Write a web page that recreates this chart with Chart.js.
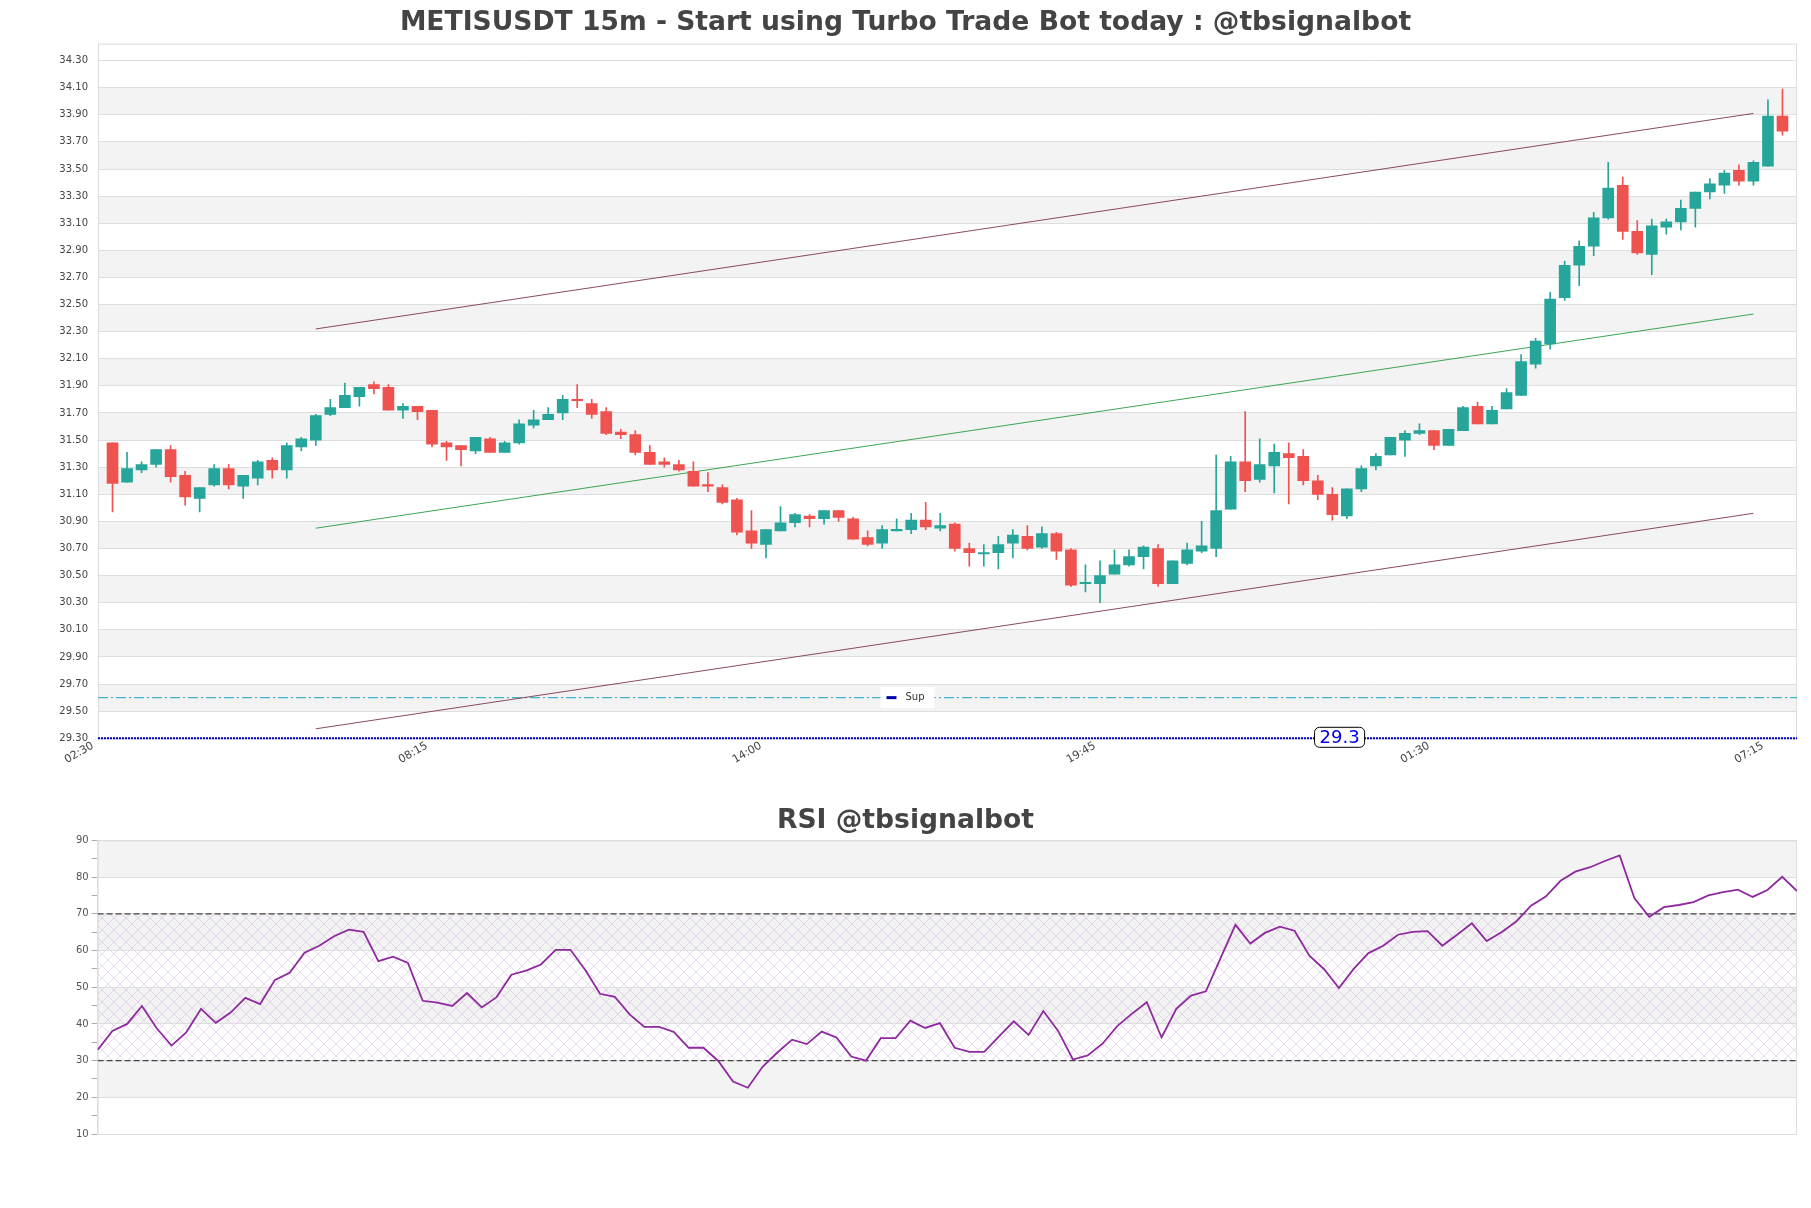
<!DOCTYPE html>
<html lang="en">
<head>
<meta charset="utf-8">
<title>METISUSDT 15m</title>
<script src="https://cdn.jsdelivr.net/npm/chart.js@4.4.0/dist/chart.umd.min.js"></script>
<style>
  body { margin: 0; background: #fff; }
  .box { position: relative; width: 1811px; }
</style>
</head>
<body>
<div class="box" style="height:780px"><canvas id="priceChart"></canvas></div>
<div class="box" style="height:428px"><canvas id="rsiChart"></canvas></div>
<script>
// ---- candle data (15m), first candle is 02:45 ----
var opens  = [31.48,31.19,31.28,31.32,31.43,31.24,31.07,31.17,31.29,31.16,31.22,31.35,31.28,31.45,31.50,31.69,31.74,31.82,31.91,31.89,
              31.72,31.75,31.72,31.48,31.46,31.42,31.51,31.41,31.48,31.61,31.65,31.70,31.80,31.77,31.71,31.56,31.54,31.41,31.34,31.32,
              31.27,31.17,31.15,31.06,30.83,30.73,30.83,30.89,30.94,30.92,30.98,30.92,30.78,30.74,30.83,30.84,30.91,30.85,30.88,30.70,
              30.66,30.67,30.74,30.79,30.71,30.81,30.69,30.44,30.44,30.51,30.58,30.64,30.70,30.44,30.59,30.68,30.70,30.99,31.34,31.21,
              31.31,31.40,31.38,31.20,31.10,30.94,31.14,31.31,31.39,31.50,31.55,31.57,31.46,31.57,31.75,31.62,31.73,31.83,32.06,32.21,
              32.55,32.79,32.93,33.14,33.38,33.04,32.87,33.07,33.11,33.21,33.33,33.38,33.49,33.41,33.52,33.89];
var highs  = [31.48,31.41,31.34,31.43,31.46,31.27,31.15,31.32,31.32,31.24,31.35,31.37,31.48,31.52,31.69,31.80,31.92,31.89,31.93,31.91,
              31.77,31.75,31.72,31.49,31.46,31.52,31.52,31.49,31.65,31.72,31.74,31.83,31.91,31.80,31.74,31.58,31.57,31.46,31.37,31.35,
              31.34,31.26,31.17,31.07,30.98,30.84,31.01,30.96,30.95,30.98,30.98,30.93,30.83,30.87,30.92,30.96,31.04,30.96,30.89,30.74,
              30.73,30.79,30.84,30.87,30.86,30.82,30.70,30.58,30.61,30.69,30.69,30.72,30.73,30.61,30.74,30.90,31.39,31.38,31.71,31.51,
              31.47,31.48,31.43,31.24,31.15,31.14,31.31,31.40,31.52,31.57,31.62,31.57,31.58,31.75,31.78,31.75,31.88,32.13,32.25,32.59,
              32.82,32.97,33.18,33.55,33.44,33.12,33.13,33.13,33.27,33.33,33.43,33.49,33.53,33.56,34.01,34.09];
var lows   = [30.97,31.19,31.26,31.30,31.19,31.02,30.97,31.16,31.14,31.07,31.17,31.22,31.22,31.42,31.46,31.68,31.74,31.75,31.84,31.72,
              31.66,31.65,31.45,31.35,31.31,31.40,31.41,31.41,31.47,31.59,31.65,31.65,31.74,31.66,31.54,31.51,31.39,31.32,31.30,31.27,
              31.16,31.12,31.03,30.80,30.70,30.63,30.83,30.86,30.86,30.88,30.90,30.77,30.72,30.70,30.83,30.81,30.84,30.83,30.68,30.57,
              30.57,30.55,30.63,30.69,30.70,30.62,30.42,30.38,30.30,30.51,30.57,30.55,30.42,30.44,30.58,30.67,30.64,30.99,31.12,31.19,
              31.11,31.03,31.17,31.06,30.91,30.92,31.12,31.28,31.39,31.38,31.54,31.43,31.46,31.57,31.62,31.62,31.73,31.83,32.03,32.17,
              32.53,32.64,32.86,33.13,32.98,32.87,32.72,33.02,33.05,33.07,33.28,33.32,33.38,33.38,33.52,33.75];
var closes = [31.18,31.29,31.32,31.43,31.23,31.08,31.15,31.29,31.17,31.24,31.34,31.28,31.46,31.51,31.68,31.74,31.83,31.89,31.88,31.72,
              31.75,31.71,31.47,31.45,31.43,31.52,31.41,31.48,31.62,31.65,31.69,31.80,31.79,31.69,31.55,31.54,31.41,31.32,31.32,31.28,
              31.16,31.16,31.04,30.82,30.74,30.84,30.89,30.95,30.92,30.98,30.93,30.77,30.73,30.84,30.84,30.91,30.86,30.87,30.70,30.67,
              30.67,30.73,30.80,30.70,30.81,30.68,30.43,30.45,30.50,30.58,30.64,30.71,30.44,30.61,30.69,30.72,30.98,31.34,31.20,31.32,
              31.41,31.37,31.20,31.10,30.95,31.14,31.29,31.38,31.52,31.55,31.57,31.46,31.58,31.74,31.62,31.72,31.85,32.08,32.23,32.54,
              32.79,32.93,33.14,33.36,33.04,32.88,33.08,33.11,33.21,33.33,33.39,33.47,33.41,33.55,33.89,33.78];

// x axis labels (candle index they sit on)
var xTickIdx    = [-1, 22, 45, 68, 91, 114];
var xTickLabels = ['02:30', '08:15', '14:00', '19:45', '01:30', '07:15'];
var priceTicks  = [29.3,29.5,29.7,29.9,30.1,30.3,30.5,30.7,30.9,31.1,31.3,31.5,31.7,31.9,32.1,32.3,32.5,32.7,32.9,33.1,33.3,33.5,33.7,33.9,34.1,34.3];

// channel lines [index, price]
var channelTop = [[14, 32.32], [113, 33.91]];
var channelMid = [[14, 30.85], [113, 32.43]];
var channelLow = [[14, 29.37], [113, 30.96]];

var supLabel = 'Sup';
var supLevel = 29.3;
var supLabelAt = 84.5;
var guideLevel = 29.6;

var rsiValues = [32.9,38.1,40.0,44.9,38.8,34.1,37.7,44.1,40.3,43.1,47.1,45.4,52.0,53.9,59.4,61.3,63.9,65.7,65.1,57.1,
                 58.3,56.6,46.3,45.8,44.9,48.4,44.5,47.3,53.4,54.5,56.2,60.2,60.2,54.7,48.2,47.4,42.6,39.2,39.2,37.8,
                 33.5,33.5,29.9,24.3,22.6,28.3,32.2,35.7,34.5,37.9,36.3,31.1,30.0,36.1,36.1,40.9,38.9,40.2,33.5,32.4,
                 32.4,36.6,40.7,37.0,43.5,38.1,30.3,31.4,34.6,39.4,42.8,45.9,36.3,44.1,47.7,48.9,58.0,67.0,61.9,64.8,
                 66.5,65.4,58.6,54.9,49.8,55.0,59.3,61.3,64.3,65.1,65.3,61.3,64.3,67.4,62.6,65.0,67.9,72.2,74.7,79.0,
                 81.5,82.7,84.4,85.9,74.2,69.2,71.8,72.4,73.2,75.0,75.9,76.6,74.6,76.5,80.1,76.2];
var rsiUpper = 70;
var rsiLower = 30;

var upColor = '#26a69a';
var downColor = '#ef5350';

Chart.defaults.font.family = '"DejaVu Sans", sans-serif';
Chart.defaults.animation = false;

function pts(pairs) {
  return pairs.map(function (p) { return {x: p[0], y: p[1]}; });
}
function candleColor(c) {
  return closes[c.dataIndex] >= opens[c.dataIndex] ? upColor : downColor;
}

// alternating grey bands between labelled ticks + optional hatch
var bandsPlugin = {
  id: 'bands',
  beforeDraw: function (chart, args, opts) {
    var ctx = chart.ctx, a = chart.chartArea, y = chart.scales.y;
    var vals = y.ticks.map(function (t) { return t.value; })
      .filter(function (v) { return opts.step ? Math.abs(v % opts.step) < 1e-6 : true; });
    ctx.save();
    ctx.fillStyle = '#f3f3f3';
    for (var i = 1; i + 1 < vals.length; i += 2) {
      var y1 = y.getPixelForValue(vals[i]), y2 = y.getPixelForValue(vals[i + 1]);
      ctx.fillRect(a.left, Math.min(y1, y2), a.width, Math.abs(y2 - y1));
    }
    if (opts.hatch) {
      var c = document.createElement('canvas');
      c.width = 12; c.height = 12;
      var g = c.getContext('2d');
      g.strokeStyle = 'rgba(190,150,210,0.5)';
      g.lineWidth = 0.7;
      g.beginPath();
      g.moveTo(0, 0); g.lineTo(12, 12);
      g.moveTo(12, 0); g.lineTo(0, 12);
      g.stroke();
      ctx.fillStyle = ctx.createPattern(c, 'repeat');
      var top = y.getPixelForValue(opts.hatch[1]), bot = y.getPixelForValue(opts.hatch[0]);
      ctx.fillRect(a.left, top, a.width, bot - top);
    }
    ctx.restore();
  },
  beforeDatasetsDraw: function (chart) {
    var ctx = chart.ctx, a = chart.chartArea;
    ctx.save();
    ctx.strokeStyle = '#dddddd';
    ctx.lineWidth = 1;
    ctx.strokeRect(a.left + 0.5, a.top + 0.5, a.width - 1, a.height);
    ctx.restore();
  }
};

// legend box and the value tag of the support line
var notesPlugin = {
  id: 'notes',
  afterDatasetsDraw: function (chart) {
    var ctx = chart.ctx, x = chart.scales.x, y = chart.scales.y;
    ctx.save();
    ctx.font = '10px "DejaVu Sans"';
    var tw = ctx.measureText(supLabel).width;
    var w = 25 + tw + 10, h = 21;
    var cy = y.getPixelForValue(guideLevel);
    var left = chart.width / 2 - w / 2 + 2;
    ctx.fillStyle = '#ffffff';
    ctx.fillRect(left, cy - h / 2, w, h);
    ctx.strokeStyle = '#0000aa';
    ctx.lineWidth = 3;
    ctx.beginPath(); ctx.moveTo(left + 6, cy); ctx.lineTo(left + 16, cy); ctx.stroke();
    ctx.fillStyle = '#333333';
    ctx.textBaseline = 'middle';
    ctx.fillText(supLabel, left + 25, cy);

    var txt = String(supLevel);
    ctx.font = '18px "DejaVu Sans"';
    var lw = ctx.measureText(txt).width + 10, lh = 20;
    var lx = x.getPixelForValue(supLabelAt) - lw / 2, ly = y.getPixelForValue(supLevel) - lh / 2 - 1;
    ctx.beginPath();
    ctx.roundRect(lx, ly, lw, lh, 5);
    ctx.fillStyle = '#ffffff'; ctx.fill();
    ctx.strokeStyle = '#000000'; ctx.lineWidth = 1; ctx.stroke();
    ctx.fillStyle = '#0000ee';
    ctx.textAlign = 'center';
    ctx.fillText(txt, lx + lw / 2, ly + lh / 2 + 1);
    ctx.restore();
  }
};

new Chart(document.getElementById('priceChart'), {
  type: 'bar',
  data: {
    datasets: [
      {
        label: 'body',
        data: opens.map(function (o, i) { return {x: i, y: [o, closes[i]]}; }),
        backgroundColor: candleColor,
        barThickness: 11,
        minBarLength: 1.5,
        grouped: false,
        order: 0
      },
      {
        label: 'wick',
        data: lows.map(function (l, i) { return {x: i, y: [l, highs[i]]}; }),
        backgroundColor: candleColor,
        barThickness: 1,
        grouped: false,
        order: 1
      },
      {type: 'line', label: 'top', data: pts(channelTop), borderColor: '#8a4a5e', borderWidth: 1, pointRadius: 0, order: 3},
      {type: 'line', label: 'mid', data: pts(channelMid), borderColor: '#3aa655', borderWidth: 1, pointRadius: 0, order: 3},
      {type: 'line', label: 'low', data: pts(channelLow), borderColor: '#8a4a5e', borderWidth: 1, pointRadius: 0, order: 3},
      {type: 'line', label: 'guide', data: pts([[-1, guideLevel], [116, guideLevel]]), borderColor: '#3cb4cc',
        borderWidth: 1.3, borderDash: [10, 3, 2, 3], pointRadius: 0, order: 3},
      {type: 'line', label: supLabel, data: pts([[-1, supLevel], [116, supLevel]]), borderColor: '#0000c0',
        borderWidth: 2, borderDash: [2, 1], pointRadius: 0, clip: false, order: 2}
    ]
  },
  options: {
    responsive: true,
    maintainAspectRatio: false,
    events: [],
    layout: {padding: {left: 14, right: 14, top: 0, bottom: 0}},
    plugins: {
      legend: {display: false},
      tooltip: {enabled: false},
      title: {
        display: true,
        text: 'METISUSDT 15m - Start using Turbo Trade Bot today : @tbsignalbot',
        color: '#444444',
        font: {size: 26.6, weight: 'bold'},
        padding: {top: 7.2, bottom: 4.5}
      },
      bands: {}
    },
    scales: {
      x: {
        type: 'linear', min: -1, max: 116, offset: false,
        afterBuildTicks: function (s) { s.ticks = xTickIdx.map(function (v) { return {value: v}; }); },
        afterFit: function (s) { s.height = 41.7; },
        grid: {display: false},
        border: {color: '#dddddd'},
        ticks: {
          autoSkip: false, minRotation: 30, maxRotation: 30, padding: -7, labelOffset: -5,
          color: '#444444', font: {size: 11},
          callback: function (v, i) { return xTickLabels[i]; }
        }
      },
      y: {
        min: 29.3, max: 34.425,
        afterBuildTicks: function (s) { s.ticks = priceTicks.map(function (v) { return {value: v}; }); },
        afterFit: function (s) { s.width = 84; },
        grid: {color: '#dedede', drawTicks: false},
        border: {color: '#dddddd'},
        ticks: {padding: 10, color: '#444444', font: {size: 10}, callback: function (v) { return v.toFixed(2); }}
      }
    }
  },
  plugins: [bandsPlugin, notesPlugin]
});

new Chart(document.getElementById('rsiChart'), {
  type: 'line',
  data: {
    datasets: [
      {label: 'RSI', data: rsiValues.map(function (v, i) { return {x: i, y: v}; }),
        borderColor: '#8e2a9e', borderWidth: 1.8, pointRadius: 0, tension: 0},
      {label: 'upper', data: pts([[0, rsiUpper], [rsiValues.length - 1, rsiUpper]]),
        borderColor: '#444444', borderWidth: 1.3, borderDash: [6, 3], pointRadius: 0},
      {label: 'lower', data: pts([[0, rsiLower], [rsiValues.length - 1, rsiLower]]),
        borderColor: '#444444', borderWidth: 1.3, borderDash: [6, 3], pointRadius: 0}
    ]
  },
  options: {
    responsive: true,
    maintainAspectRatio: false,
    events: [],
    layout: {padding: {left: 14, right: 14, top: 0, bottom: 74}},
    plugins: {
      legend: {display: false},
      tooltip: {enabled: false},
      title: {
        display: true,
        text: 'RSI @tbsignalbot',
        color: '#444444',
        font: {size: 26.6, weight: 'bold'},
        padding: {top: 25.5, bottom: 3}
      },
      bands: {step: 10, hatch: [rsiLower, rsiUpper]}
    },
    scales: {
      x: {type: 'linear', min: 0, max: rsiValues.length - 1, display: false},
      y: {
        min: 10, max: 90,
        afterFit: function (s) { s.width = 83.6; },
        grid: {
          color: function (c) { return c.tick && c.tick.value % 10 === 0 ? '#dedede' : 'rgba(0,0,0,0)'; },
          tickColor: '#aaaaaa', tickLength: 6
        },
        border: {color: '#dddddd'},
        ticks: {
          stepSize: 5, padding: 3, color: '#555555', font: {size: 10},
          callback: function (v) { return v % 10 === 0 ? String(v) : ''; }
        }
      }
    }
  },
  plugins: [bandsPlugin]
});
</script>
</body>
</html>
